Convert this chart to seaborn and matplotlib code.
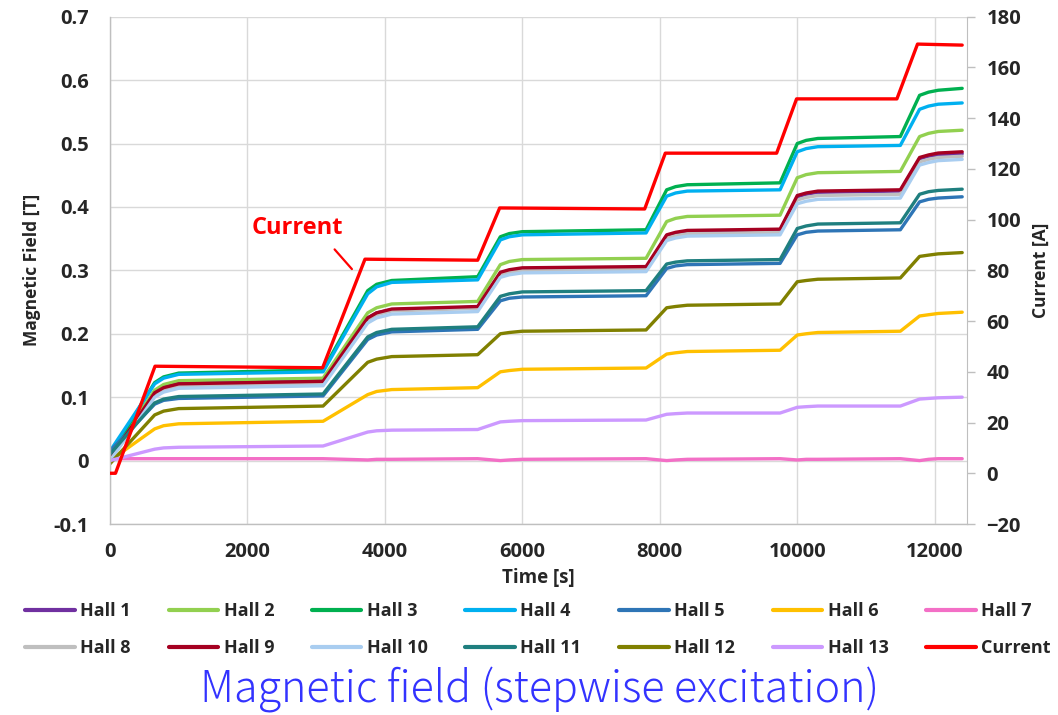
import matplotlib
matplotlib.use("Agg")
import matplotlib.pyplot as plt
from matplotlib.lines import Line2D
import seaborn as sns
import pandas as pd

# ---------------- data ----------------
t_hall = [0, 650, 780, 1000, 3100, 3750, 3880, 4100, 5350, 5680, 5810, 6000, 7800,
          8100, 8230, 8400, 9750, 10000, 10130, 10300, 11500, 11780, 11910, 12050, 12400]

hall_1 = [0.002, 0.108, 0.117, 0.123, 0.127, 0.225, 0.233, 0.238, 0.242, 0.295, 0.299, 0.302,
          0.304, 0.354, 0.358, 0.361, 0.363, 0.416, 0.420, 0.423, 0.425, 0.476, 0.480, 0.482,
          0.484]
hall_2 = [0.005, 0.111, 0.120, 0.126, 0.130, 0.233, 0.241, 0.247, 0.251, 0.309, 0.314, 0.317,
          0.319, 0.377, 0.382, 0.385, 0.387, 0.446, 0.451, 0.454, 0.456, 0.511, 0.516, 0.519,
          0.521]
hall_3 = [0.008, 0.123, 0.132, 0.138, 0.143, 0.268, 0.278, 0.284, 0.290, 0.353, 0.358, 0.361,
          0.364, 0.427, 0.432, 0.435, 0.438, 0.500, 0.505, 0.508, 0.511, 0.576, 0.581, 0.584,
          0.587]
hall_4 = [0.015, 0.121, 0.130, 0.136, 0.140, 0.263, 0.274, 0.281, 0.285, 0.348, 0.353, 0.356,
          0.359, 0.417, 0.422, 0.425, 0.427, 0.487, 0.492, 0.495, 0.497, 0.554, 0.559, 0.562,
          0.564]
hall_5 = [0.015, 0.089, 0.095, 0.098, 0.102, 0.191, 0.198, 0.203, 0.207, 0.252, 0.256, 0.258,
          0.260, 0.303, 0.307, 0.309, 0.311, 0.356, 0.360, 0.362, 0.364, 0.408, 0.412, 0.414,
          0.416]
hall_6 = [0.000, 0.050, 0.055, 0.058, 0.062, 0.104, 0.109, 0.112, 0.115, 0.140, 0.142, 0.144,
          0.146, 0.168, 0.170, 0.172, 0.174, 0.198, 0.200, 0.202, 0.204, 0.228, 0.230, 0.232,
          0.234]
hall_7 = [0.003, 0.003, 0.003, 0.003, 0.003, 0.001, 0.002, 0.002, 0.003, 0.000, 0.001, 0.002,
          0.003, 0.000, 0.001, 0.002, 0.003, 0.001, 0.002, 0.002, 0.003, 0.000, 0.002, 0.003,
          0.003]
hall_8 = [0.000, 0.104, 0.112, 0.118, 0.122, 0.222, 0.230, 0.236, 0.240, 0.293, 0.297, 0.300,
          0.302, 0.351, 0.355, 0.358, 0.360, 0.411, 0.415, 0.418, 0.420, 0.471, 0.475, 0.478,
          0.480]
hall_9 = [0.003, 0.107, 0.115, 0.121, 0.125, 0.225, 0.233, 0.239, 0.243, 0.297, 0.301, 0.304,
          0.306, 0.356, 0.360, 0.363, 0.365, 0.418, 0.422, 0.425, 0.427, 0.478, 0.482, 0.485,
          0.487]
hall_10 = [0.000, 0.100, 0.108, 0.114, 0.118, 0.217, 0.225, 0.231, 0.235, 0.289, 0.293, 0.296,
           0.298, 0.347, 0.351, 0.354, 0.356, 0.405, 0.409, 0.412, 0.414, 0.466, 0.470, 0.473,
           0.475]
hall_11 = [0.010, 0.091, 0.097, 0.101, 0.105, 0.195, 0.202, 0.207, 0.211, 0.259, 0.263, 0.266,
           0.268, 0.310, 0.313, 0.315, 0.317, 0.366, 0.370, 0.373, 0.375, 0.420, 0.424, 0.426,
           0.428]
hall_12 = [-0.005, 0.072, 0.078, 0.082, 0.086, 0.155, 0.160, 0.164, 0.167, 0.200, 0.202, 0.204,
           0.206, 0.241, 0.243, 0.245, 0.247, 0.282, 0.284, 0.286, 0.288, 0.322, 0.324, 0.326,
           0.328]
hall_13 = [0.000, 0.018, 0.020, 0.021, 0.023, 0.045, 0.047, 0.048, 0.049, 0.061, 0.062, 0.063,
           0.064, 0.073, 0.074, 0.075, 0.075, 0.084, 0.085, 0.086, 0.086, 0.097, 0.098, 0.099,
           0.100]

t_current = [0, 80, 655, 3094, 3710, 5350, 5670, 7780, 8080, 9700, 9990, 11450, 11750, 12400]
current = [0, 0, 42.2, 41.6, 84.4, 84.0, 104.6, 104.2, 126.2, 126.2, 147.6, 147.6, 169.2, 168.8]

hall_names = [f"Hall {i}" for i in range(1, 14)]
hall_values = [hall_1, hall_2, hall_3, hall_4, hall_5, hall_6, hall_7,
               hall_8, hall_9, hall_10, hall_11, hall_12, hall_13]
hall_colors = ["#7030A0", "#92D050", "#00B050", "#00B0F0", "#2E75B6", "#FFC000", "#F36FC6",
               "#BFBFBF", "#A50021", "#A9CDF0", "#1F7F7F", "#808000", "#CC99FF"]
current_color = "#FF0000"

x_ticks = [0, 2000, 4000, 6000, 8000, 10000, 12000]
left_ticks = [-0.1, 0, 0.1, 0.2, 0.3, 0.4, 0.5, 0.6, 0.7]
left_labels = ["-0.1", "0", "0.1", "0.2", "0.3", "0.4", "0.5", "0.6", "0.7"]
right_ticks = [-20, 0, 20, 40, 60, 80, 100, 120, 140, 160, 180]

# ---------------- build long table ----------------
rows = []
for name, vals in zip(hall_names, hall_values):
    for t, v in zip(t_hall, vals):
        rows.append((name, t, v))
df = pd.DataFrame(rows, columns=["sensor", "time", "field"])
df_cur = pd.DataFrame({"time": t_current, "current": current})

# ---------------- style ----------------
sns.set_style("white")
plt.rcParams["font.family"] = ["Open Sans", "DejaVu Sans"]
text_col = "#262626"
grid_col = "#D9D9D9"
spine_col = "#BFBFBF"

fig = plt.figure(figsize=(10.58, 7.15), dpi=100)
ax = fig.add_axes([110 / 1058, 1 - 524 / 715, (967 - 110) / 1058, (524 - 16.7) / 715])

palette = dict(zip(hall_names, hall_colors))
sns.lineplot(data=df, x="time", y="field", hue="sensor", hue_order=hall_names,
             palette=palette, estimator=None, linewidth=2.4, legend=False, ax=ax)

ax.set_xlim(0, 12470)
ax.set_ylim(-0.1, 0.7)
ax.set_xticks(x_ticks)
ax.set_yticks(left_ticks)
ax.set_yticklabels(left_labels)
ax.grid(True, color=grid_col, linewidth=1.0)
ax.set_axisbelow(True)
ax.tick_params(axis="x", length=0, labelsize=14.5, labelcolor=text_col, pad=13)
ax.tick_params(axis="y", length=0, labelsize=14.5, labelcolor=text_col, pad=15)
for lab in ax.get_xticklabels() + ax.get_yticklabels():
    lab.set_fontweight("bold")
for s in ["top", "right"]:
    ax.spines[s].set_visible(False)
for s in ["left", "bottom"]:
    ax.spines[s].set_color(spine_col)
    ax.spines[s].set_linewidth(1.0)
ax.set_xlabel("Time [s]", fontsize=13.5, fontweight="bold", color=text_col, labelpad=4)
ax.set_ylabel("Magnetic Field [T]", fontsize=12.5, fontweight="bold", color=text_col, labelpad=9)

ax2 = ax.twinx()
sns.lineplot(data=df_cur, x="time", y="current", color=current_color, linewidth=2.4,
             estimator=None, ax=ax2)
ax2.set_ylim(-20, 180)
ax2.set_yticks(right_ticks)
ax2.tick_params(axis="y", length=6, width=1, color=spine_col, labelsize=14.5,
                labelcolor=text_col, pad=8)
for lab in ax2.get_yticklabels():
    lab.set_fontweight("bold")
for s in ["top", "left", "bottom"]:
    ax2.spines[s].set_visible(False)
ax2.spines["right"].set_color(spine_col)
ax2.set_ylabel("Current [A]", fontsize=12.5, fontweight="bold", color=text_col, labelpad=8)
ax2.set_xlabel("")

ax.annotate("Current", xy=(3520, 0.302), xytext=(2720, 0.367), color=current_color,
            fontsize=17, fontweight="bold", ha="center", va="center",
            arrowprops=dict(arrowstyle="-", color=current_color, lw=1.6,
                            relpos=(0.82, 0.0), shrinkA=6, shrinkB=0))

# ---------------- legend ----------------
handles = {n: Line2D([], [], color=c, linewidth=3) for n, c in zip(hall_names, hall_colors)}
handles["Current"] = Line2D([], [], color=current_color, linewidth=3)
row1 = hall_names[:7]
row2 = hall_names[7:] + ["Current"]
order = [n for pair in zip(row1, row2) for n in pair]
fig.legend([handles[n] for n in order], order, ncol=7, loc="upper left",
           bbox_to_anchor=(18 / 1058, 1 - 595 / 715, 1040 / 1058, 0.0), mode="expand",
           frameon=False, handlelength=2.75, handletextpad=0.3, columnspacing=0.5,
           labelspacing=1.05, borderaxespad=0,
           prop=dict(family="Open Sans", weight="bold", size=13))

fig.text(0.51, 1 - 690 / 715, "Magnetic field (stepwise excitation)", ha="center", va="center",
         color="#3333FF", fontsize=31, fontweight="light",
         family=["Noto Sans CJK JP", "DejaVu Sans"])

fig.savefig("out.png", dpi=100)
